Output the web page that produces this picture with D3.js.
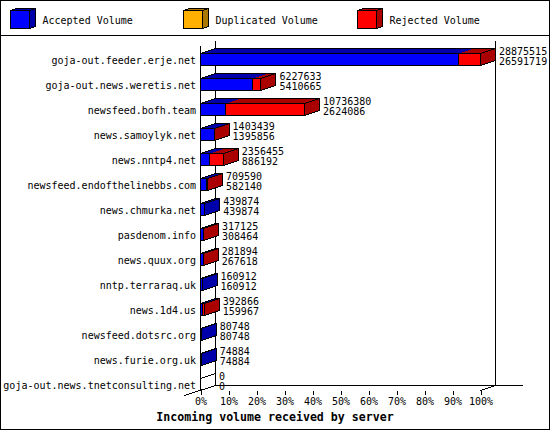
<!DOCTYPE html>
<html><head><meta charset="utf-8">
<script src="https://cdn.jsdelivr.net/npm/d3@7/dist/d3.min.js"></script>
<style>
body{margin:0;background:#fff}
svg{display:block}
text{font-family:"DejaVu Sans Mono",monospace;font-size:10px;fill:#000}
</style>
</head><body>
<svg id="c" width="550" height="430" shape-rendering="crispEdges"></svg>
<script>
const categories = [
  "goja-out.feeder.erje.net","goja-out.news.weretis.net","newsfeed.bofh.team",
  "news.samoylyk.net","news.nntp4.net","newsfeed.endofthelinebbs.com",
  "news.chmurka.net","pasdenom.info","news.quux.org","nntp.terraraq.uk",
  "news.1d4.us","newsfeed.dotsrc.org","news.furie.org.uk",
  "goja-out.news.tnetconsulting.net"
];
const totalVolume    = [28875515,6227633,10736380,1403439,2356455,709590,439874,317125,281894,160912,392866,80748,74884,0];
const acceptedVolume = [26591719,5410665,2624086,1395856,886192,582140,439874,308464,267618,160912,159967,80748,74884,0];
const duplicatedVolume = [0,0,0,0,0,0,0,0,0,0,0,0,0,0];
const seriesNames  = ["Accepted Volume","Duplicated Volume","Rejected Volume"];
const seriesColors = ["#0000ff","#ffb000","#ff0000"];
const seriesDark   = ["#0000aa","#aa7700","#aa0000"];
const tickValues = [0,10,20,30,40,50,60,70,80,90,100];
const axisTitle = "Incoming volume received by server";

const svg = d3.select("#c");
const W = 550, H = 430;
const DX = 15, DY = -5;
const X0 = 200.5, X1 = 480.5;
const x = d3.scaleLinear().domain([0, d3.max(totalVolume)]).range([X0, X1]);
const pct = d3.scaleLinear().domain([0, 100]).range([X0, X1]);
const y = d3.scaleBand().domain(categories).range([47, 397]);
const snap = v => Math.round(v - 0.5) + 0.5;
const pts = a => a.map(p => p.join(",")).join(" ");

// background & frame
svg.append("rect").attr("x",0).attr("y",0).attr("width",W).attr("height",H).attr("fill","#fff");
svg.append("rect").attr("x",0.5).attr("y",0.5).attr("width",W-1).attr("height",H-1)
  .attr("fill","none").attr("stroke","#000");
svg.append("line").attr("x1",0).attr("x2",W).attr("y1",35.5).attr("y2",35.5).attr("stroke","#000");

// legend
const legX = [10.5, 183.5, 357.5];
seriesNames.forEach((n,i)=>{
  const lx = legX[i], top = 10.5, bot = 28.5, w = 19, dx = 6, dy = -2;
  const g = svg.append("g");
  g.append("polygon").attr("points", pts([[lx,top],[lx+dx,top+dy],[lx+w+dx,top+dy],[lx+w,top]]))
    .attr("fill", seriesDark[i]).attr("stroke","#000");
  g.append("polygon").attr("points", pts([[lx+w,top],[lx+w+dx,top+dy],[lx+w+dx,bot+dy],[lx+w,bot]]))
    .attr("fill", seriesDark[i]).attr("stroke","#000");
  g.append("rect").attr("x",lx).attr("y",top).attr("width",w).attr("height",bot-top)
    .attr("fill", seriesColors[i]).attr("stroke","#000");
  g.append("text").attr("x", lx + 32).attr("y", 23.5).text(n);
});

// walls
const yTop = y(categories[0]);
const yBotFront = 390.5, yBotBack = yBotFront + DY;
const wall = svg.append("g").attr("stroke","#000").attr("fill","none");
wall.append("line").attr("x1",X0).attr("x2",X0).attr("y1",45.5).attr("y2",yBotFront);
wall.append("line").attr("x1",X0+DX).attr("x2",X0+DX).attr("y1",40.5).attr("y2",yBotBack);
wall.append("line").attr("x1",X1+DX).attr("x2",X1+DX).attr("y1",40.5).attr("y2",yBotBack);
wall.append("line").attr("x1",X0+DX).attr("x2",522.5).attr("y1",yBotBack).attr("y2",yBotBack);
wall.append("line").attr("x1",X0-DX-1).attr("y1",yBotFront-DY).attr("x2",X0+DX).attr("y2",yBotBack);
wall.append("line").attr("x1",X1).attr("y1",yBotFront).attr("x2",X1+DX).attr("y2",yBotBack);

// bars
categories.forEach((c,i)=>{
  const cy = y(c) + y.bandwidth()/2;
  const top = cy - 6, bot = cy + 6;
  const vals = [acceptedVolume[i], duplicatedVolume[i], totalVolume[i]-acceptedVolume[i]-duplicatedVolume[i]];
  const g = svg.append("g");
  let cum = 0, lastIdx = 0;
  const xs = snap(x(0));
  const xe = snap(x(totalVolume[i]));
  vals.forEach((v,k)=>{
    if (v > 0) lastIdx = k;
    const a = snap(x(cum)), b = snap(x(cum+v));
    cum += v;
    if (b > a) {
      g.append("polygon").attr("points", pts([[a,top],[a+DX,top+DY],[b+DX,top+DY],[b,top]]))
        .attr("fill", seriesDark[k]).attr("stroke","none");
      g.append("rect").attr("x",a).attr("y",top).attr("width",b-a).attr("height",bot-top)
        .attr("fill", seriesColors[k]).attr("stroke","#000");
    }
  });
  g.append("polygon").attr("points", pts([[xs,top],[xs+DX,top+DY],[xe+DX,top+DY],[xe,top]]))
    .attr("fill","none").attr("stroke","#000");
  g.append("polygon").attr("points", pts([[xe,top],[xe+DX,top+DY],[xe+DX,bot+DY],[xe,bot]]))
    .attr("fill", totalVolume[i] > 0 ? seriesDark[lastIdx] : "none").attr("stroke","#000");
  if (totalVolume[i] === 0) {
    g.append("line").attr("x1",xs).attr("y1",bot).attr("x2",xs+DX).attr("y2",bot+DY).attr("stroke","#000");
  }
  // value labels
  const tx = x(totalVolume[i]) + DX + 3.5;
  svg.append("text").attr("x", tx).attr("y", cy - 5).text(totalVolume[i]);
  svg.append("text").attr("x", tx).attr("y", cy + 5.5).text(acceptedVolume[i]);
  // category label
  svg.append("text").attr("x", 196).attr("y", cy + 4).attr("text-anchor","end").text(c);
});

// x axis ticks
const axis = d3.axisBottom(pct).tickValues(tickValues).tickFormat(d => d + "%").tickSize(4).tickPadding(3);
const ag = svg.append("g").attr("transform", `translate(0,${yBotFront})`).call(axis);
ag.select(".domain").remove();
ag.selectAll("text").attr("font-family","DejaVu Sans Mono").attr("font-size","10px").attr("fill","#000");
ag.selectAll("line").attr("stroke","#000");

svg.append("text").attr("x", 275).attr("y", 421).attr("text-anchor","middle")
  .style("font-weight","bold").style("font-size","11.6px").text(axisTitle);
</script>
</body></html>
